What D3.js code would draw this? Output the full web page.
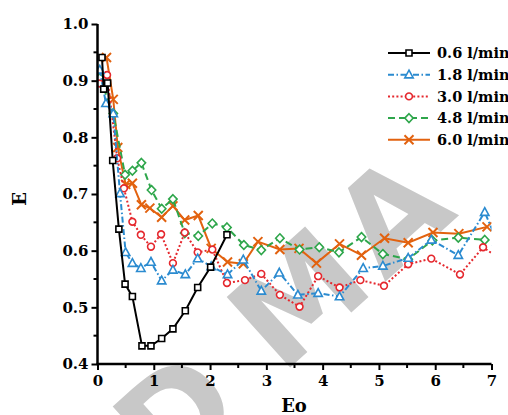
<!DOCTYPE html>
<html>
<head>
<meta charset="utf-8">
<script src="https://cdn.jsdelivr.net/npm/d3@7"></script>
<style>
	body { margin: 0; background: #fff; }
	svg { display: block; }
	text { font-family: "DejaVu Serif", serif; font-weight: bold; fill: #000; }
</style>
</head>
<body>
<div id="chart"></div>
<script>

var eo06 = [0.08, 0.11, 0.18, 0.27, 0.38, 0.49, 0.62, 0.79, 0.95, 1.14, 1.34, 1.56, 1.78, 2.01, 2.30];
var e06 = [0.941, 0.885, 0.896, 0.759, 0.638, 0.541, 0.519, 0.432, 0.432, 0.445, 0.462, 0.494, 0.535, 0.571, 0.628];

var eo18 = [0.04, 0.15, 0.28, 0.40, 0.50, 0.62, 0.77, 0.95, 1.14, 1.34, 1.56, 1.78, 2.02, 2.31, 2.59, 2.91, 3.23, 3.56, 3.92, 4.30, 4.72, 5.07, 5.52, 5.93, 6.41, 6.88, 7.10];
var e18 = [0.919, 0.860, 0.842, 0.701, 0.597, 0.578, 0.569, 0.580, 0.547, 0.566, 0.558, 0.586, 0.572, 0.558, 0.584, 0.529, 0.561, 0.522, 0.525, 0.519, 0.569, 0.573, 0.587, 0.619, 0.592, 0.668, 0.616];

var eo30 = [0.04, 0.17, 0.35, 0.47, 0.62, 0.77, 0.95, 1.13, 1.34, 1.55, 1.78, 2.04, 2.30, 2.62, 2.91, 3.24, 3.59, 3.92, 4.30, 4.67, 5.09, 5.52, 5.93, 6.44, 6.85, 7.10];
var e30 = [0.895, 0.910, 0.763, 0.710, 0.651, 0.628, 0.607, 0.629, 0.578, 0.632, 0.597, 0.602, 0.543, 0.548, 0.559, 0.522, 0.501, 0.555, 0.535, 0.548, 0.538, 0.576, 0.586, 0.558, 0.606, 0.589];

var eo48 = [0.04, 0.28, 0.49, 0.62, 0.78, 0.96, 1.14, 1.34, 1.55, 1.79, 2.04, 2.30, 2.60, 2.91, 3.24, 3.59, 3.94, 4.29, 4.69, 5.07, 5.52, 5.95, 6.41, 6.88];
var e48 = [0.905, 0.842, 0.734, 0.741, 0.755, 0.707, 0.674, 0.691, 0.631, 0.626, 0.648, 0.641, 0.610, 0.601, 0.622, 0.602, 0.606, 0.597, 0.624, 0.594, 0.585, 0.618, 0.623, 0.619];

var eo60 = [0.16, 0.28, 0.36, 0.50, 0.62, 0.78, 0.93, 1.14, 1.34, 1.55, 1.79, 2.02, 2.31, 2.59, 2.85, 3.24, 3.58, 3.89, 4.30, 4.69, 5.10, 5.52, 5.96, 6.42, 6.92];
var e60 = [0.941, 0.867, 0.782, 0.717, 0.719, 0.681, 0.675, 0.659, 0.679, 0.654, 0.662, 0.604, 0.580, 0.577, 0.616, 0.602, 0.604, 0.578, 0.612, 0.592, 0.622, 0.614, 0.632, 0.630, 0.642];

var seriesNames = ["0.6 l/min", "1.8 l/min", "3.0 l/min", "4.8 l/min", "6.0 l/min"];
var seriesColors = ["#000000", "#2b8bd0", "#e5282e", "#2ea64b", "#e2620f"];
var seriesDashes = [null, "6,2.5,1.5,2.5", "2,2.2", "7,4", null];
var seriesMarkers = ["square", "triangle", "circle", "diamond", "cross"];

var xTicks = [0, 1, 2, 3, 4, 5, 6, 7];
var yTicks = [0.4, 0.5, 0.6, 0.7, 0.8, 0.9, 1.0];

var watermark = ["D", "MA"];


function drawChart() {

	var width = 508, height = 415;
	var left = 97.5, top = 24, right = 491.5, bottom = 364;

	var svg = d3.select("#chart").append("svg")
		.attr("width", width)
		.attr("height", height);

	var x = d3.scaleLinear().domain([0, 7]).range([left, right]);
	var y = d3.scaleLinear().domain([0.4, 1.0]).range([bottom, top]);

	svg.append("defs").append("clipPath")
		.attr("id", "plotclip")
	.append("rect")
		.attr("x", left)
		.attr("y", 0)
		.attr("width", right - left)
		.attr("height", bottom);

	// grey watermark behind everything
	var wm = svg.append("text")
		.attr("transform", "translate(152,492) rotate(-42)")
		.style("font-family", "'DejaVu Sans', sans-serif")
		.style("font-size", "130px")
		.style("letter-spacing", "10px")
		.style("fill", "#c8c8c8");

	wm.append("tspan")
		.attr("dx", 16)
		.attr("dy", 5)
		.text(watermark[0]);

	wm.append("tspan")
		.attr("dx", 40)
		.attr("dy", -5)
		.text(watermark[1]);

	var series = seriesNames.map(function(name, i) {

		var xs = [eo06, eo18, eo30, eo48, eo60][i];
		var ys = [e06, e18, e30, e48, e60][i];

		return {
			name: name,
			color: seriesColors[i],
			dash: seriesDashes[i],
			marker: seriesMarkers[i],
			points: xs.map(function(v, j) { return [v, ys[j]]; })
		};

	});

	var line = d3.line()
		.x(function(d) { return x(d[0]); })
		.y(function(d) { return y(d[1]); });

	var plot = svg.append("g").attr("clip-path", "url(#plotclip)");

	// draw from last to first so black ends up on top
	var groups = plot.selectAll("g.series")
		.data(series.slice().reverse())
	.enter()
		.append("g")
		.attr("class", "series");

	groups.append("path")
		.attr("d", function(d) { return line(d.points); })
		.attr("fill", "none")
		.attr("stroke", function(d) { return d.color; })
		.attr("stroke-width", 2)
		.attr("stroke-dasharray", function(d) { return d.dash; });

	groups.each(function(s) {

		d3.select(this).selectAll("path.mark")
			.data(s.points)
		.enter()
			.append("path")
			.attr("class", "mark")
			.attr("transform", function(d) { return "translate(" + x(d[0]) + "," + y(d[1]) + ")"; })
			.attr("d", markerPath(s.marker))
			.attr("fill", s.marker == "cross" ? "none" : "#fff")
			.attr("stroke", s.color)
			.attr("stroke-width", s.marker == "cross" ? 2 : 1.6);

	});

	// axes
	var xAxis = d3.axisBottom(x)
		.tickValues(xTicks)
		.tickFormat(d3.format("d"))
		.tickSize(6)
		.tickPadding(5);

	var yAxis = d3.axisLeft(y)
		.tickValues(yTicks)
		.tickFormat(d3.format(".1f"))
		.tickSize(6)
		.tickPadding(3);

	var gx = svg.append("g")
		.attr("transform", "translate(0," + bottom + ")")
		.call(xAxis);

	var gy = svg.append("g")
		.attr("transform", "translate(" + left + ",0)")
		.call(yAxis);

	gx.selectAll(".tick text").style("font-size", "15px").attr("dy", "0.75em");
	gy.selectAll(".tick text").style("font-size", "15px");

	var minorX = d3.range(0.5, 7, 1);
	var minorY = d3.range(0.45, 1.0, 0.1);

	gx.selectAll("line.minor")
		.data(minorX)
	.enter()
		.append("line")
		.attr("class", "minor")
		.attr("x1", function(d) { return x(d); })
		.attr("x2", function(d) { return x(d); })
		.attr("y2", 4);

	gy.selectAll("line.minor")
		.data(minorY)
	.enter()
		.append("line")
		.attr("class", "minor")
		.attr("y1", function(d) { return y(d); })
		.attr("y2", function(d) { return y(d); })
		.attr("x2", -4);

	[gx, gy].forEach(function(g) {

		g.select(".domain").attr("stroke", "#000").attr("stroke-width", 2.5);
		g.selectAll("line").attr("stroke", "#000").attr("stroke-width", 2);

	});

	gx.select(".domain").attr("d", "M" + (left - 1) + ",0H" + right);
	gy.select(".domain").attr("d", "M0," + top + "V" + (bottom + 1));

	svg.append("text")
		.attr("x", 294)
		.attr("y", 412)
		.attr("text-anchor", "middle")
		.style("font-size", "18px")
		.text("Eo");

	svg.append("text")
		.attr("transform", "translate(26,199) rotate(-90)")
		.attr("text-anchor", "middle")
		.style("font-size", "18px")
		.text("E");

	// legend
	var legend = svg.append("g");

	legend.append("rect")
		.attr("x", 383)
		.attr("y", 44)
		.attr("width", 125)
		.attr("height", 118)
		.attr("fill", "#fff");

	var rows = legend.selectAll("g.row")
		.data(series)
	.enter()
		.append("g")
		.attr("class", "row")
		.attr("transform", function(d, i) { return "translate(0," + (53 + i * 21.7) + ")"; });

	rows.append("line")
		.attr("x1", 388)
		.attr("x2", 430)
		.attr("stroke", function(d) { return d.color; })
		.attr("stroke-width", 2)
		.attr("stroke-dasharray", function(d) { return d.dash; });

	rows.append("path")
		.attr("transform", "translate(409,0)")
		.attr("d", function(d) { return markerPath(d.marker); })
		.attr("fill", function(d) { return d.marker == "cross" ? "none" : "#fff"; })
		.attr("stroke", function(d) { return d.color; })
		.attr("stroke-width", function(d) { return d.marker == "cross" ? 2 : 1.6; });

	rows.append("text")
		.attr("x", 437)
		.attr("dy", "0.36em")
		.style("font-size", "14.5px")
		.text(function(d) { return d.name; });

}


function markerPath(type) {

	if( type == "square" ) {

		return "M-3,-3H3V3H-3Z";

	}

	if( type == "triangle" ) {

		return "M0,-4.5L4.2,3.2H-4.2Z";

	}

	if( type == "circle" ) {

		return "M3.4,0A3.4,3.4 0 1,1 -3.4,0A3.4,3.4 0 1,1 3.4,0Z";

	}

	if( type == "diamond" ) {

		return "M0,-4.4L4.2,0L0,4.4L-4.2,0Z";

	}

	return "M-4.5,-4.5L4.5,4.5M-4.5,4.5L4.5,-4.5";

}


drawChart();

</script>
</body>
</html>
